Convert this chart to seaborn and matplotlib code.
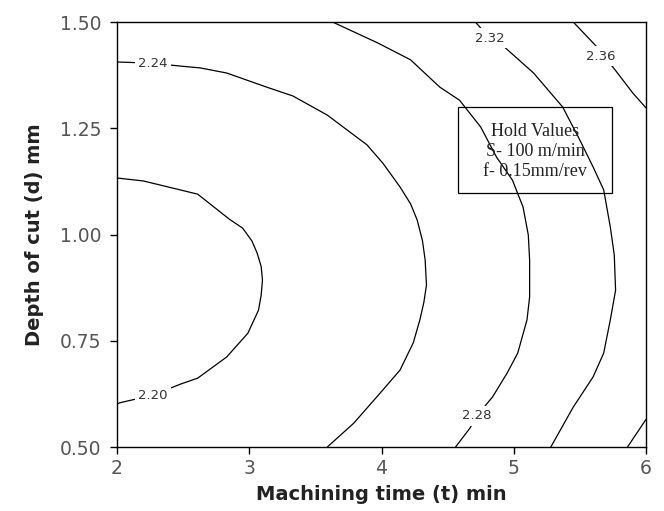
import pandas as pd
import matplotlib.pyplot as plt
import matplotlib.patches as patches
import seaborn as sns

# Contour lines: machining time t (min) vs depth of cut d (mm)
c220_t = [2.00, 2.20, 2.61, 2.85, 2.95, 3.02, 3.06, 3.09, 3.10, 3.09, 3.07, 2.99, 2.83, 2.61, 2.48, 2.27, 2.02, 2.00]
c220_d = [1.133, 1.126, 1.095, 1.036, 1.015, 0.985, 0.956, 0.925, 0.893, 0.857, 0.822, 0.768, 0.712, 0.662, 0.648, 0.622, 0.604, 0.601]

c224_t = [2.00, 2.27, 2.49, 2.63, 2.83, 3.13, 3.33, 3.59, 3.89, 4.01, 4.14, 4.22, 4.27, 4.31, 4.33, 4.34, 4.32, 4.29, 4.24, 4.14, 3.99, 3.79, 3.59]
c224_d = [1.406, 1.403, 1.396, 1.392, 1.380, 1.347, 1.326, 1.281, 1.211, 1.168, 1.112, 1.072, 1.034, 0.985, 0.940, 0.881, 0.840, 0.799, 0.745, 0.681, 0.627, 0.556, 0.500]

c228_t = [3.63, 3.97, 4.22, 4.44, 4.59, 4.75, 4.87, 4.99, 5.07, 5.11, 5.12, 5.12, 5.10, 5.03, 4.95, 4.84, 4.72, 4.67, 4.56]
c228_d = [1.500, 1.451, 1.411, 1.347, 1.316, 1.253, 1.182, 1.128, 1.065, 0.999, 0.940, 0.853, 0.799, 0.721, 0.674, 0.618, 0.573, 0.545, 0.500]

c232_t = [4.71, 4.75, 4.82, 4.93, 5.15, 5.37, 5.50, 5.60, 5.68, 5.73, 5.76, 5.77, 5.73, 5.68, 5.60, 5.45, 5.28]
c232_d = [1.500, 1.486, 1.462, 1.441, 1.380, 1.300, 1.222, 1.159, 1.105, 1.018, 0.952, 0.869, 0.799, 0.721, 0.665, 0.594, 0.500]

c236_t = [5.45, 5.63, 5.66, 5.75, 5.90, 6.00]
c236_d = [1.500, 1.441, 1.420, 1.394, 1.333, 1.298]

c236b_t = [5.86, 6.00]
c236b_d = [0.500, 0.565]

# contour labels: text, t, d
label_text = ["2.20", "2.24", "2.28", "2.32", "2.36"]
label_t = [2.27, 2.27, 4.72, 4.82, 5.66]
label_d = [0.622, 1.403, 0.573, 1.462, 1.420]

hold_text = "Hold Values\nS- 100 m/min\nf- 0.15mm/rev"

x_ticks = [2, 3, 4, 5, 6]
y_ticks = [0.50, 0.75, 1.00, 1.25, 1.50]

# long table for seaborn
curves = {
    "c220": (c220_t, c220_d),
    "c224": (c224_t, c224_d),
    "c228": (c228_t, c228_d),
    "c232": (c232_t, c232_d),
    "c236": (c236_t, c236_d),
    "c236b": (c236b_t, c236b_d),
}
rows = []
for name, (ts, ds) in curves.items():
    for t, d in zip(ts, ds):
        rows.append({"curve": name, "t": t, "d": d})
df = pd.DataFrame(rows)

sns.set_style("white")
plt.rcParams["font.family"] = ["DejaVu Sans"]

fig = plt.figure(figsize=(6.64, 5.11), dpi=100)
ax = fig.add_axes([0.1762, 0.1252, 0.7967, 0.8317])

sns.lineplot(data=df, x="t", y="d", units="curve", estimator=None, sort=False,
             color="black", linewidth=0.9, ax=ax)

for txt, t, d in zip(label_text, label_t, label_d):
    ax.text(t, d, txt, fontsize=9.5, color="#333333", ha="center", va="center",
            bbox=dict(facecolor="white", edgecolor="none", pad=2.5))

# hold values box
ax.add_patch(patches.Rectangle((4.576, 1.097), 1.169, 0.202, fill=False,
                               edgecolor="black", linewidth=0.9))
ax.text(5.16, 1.195, hold_text, ha="center", va="center", multialignment="center",
        fontsize=13, family="Liberation Serif", color="#222222", linespacing=1.25)

ax.set_xlim(2, 6)
ax.set_ylim(0.5, 1.5)
ax.set_xticks(x_ticks)
ax.set_yticks(y_ticks)
ax.set_xticklabels([str(v) for v in x_ticks])
ax.set_yticklabels([f"{v:.2f}" for v in y_ticks])
ax.tick_params(direction="out", length=5, width=1, colors="black",
               labelsize=13.5, labelcolor="#555555", left=True, bottom=True)
ax.tick_params(axis="y", pad=6)

for s in ax.spines.values():
    s.set_color("black")
    s.set_linewidth(1)

ax.set_xlabel("Machining time (t) min", fontsize=14, fontweight="bold", labelpad=5, color="#222222")
ax.set_ylabel("Depth of cut (d) mm", fontsize=14, fontweight="bold", labelpad=12, color="#222222")

fig.savefig("out.png", dpi=100)
